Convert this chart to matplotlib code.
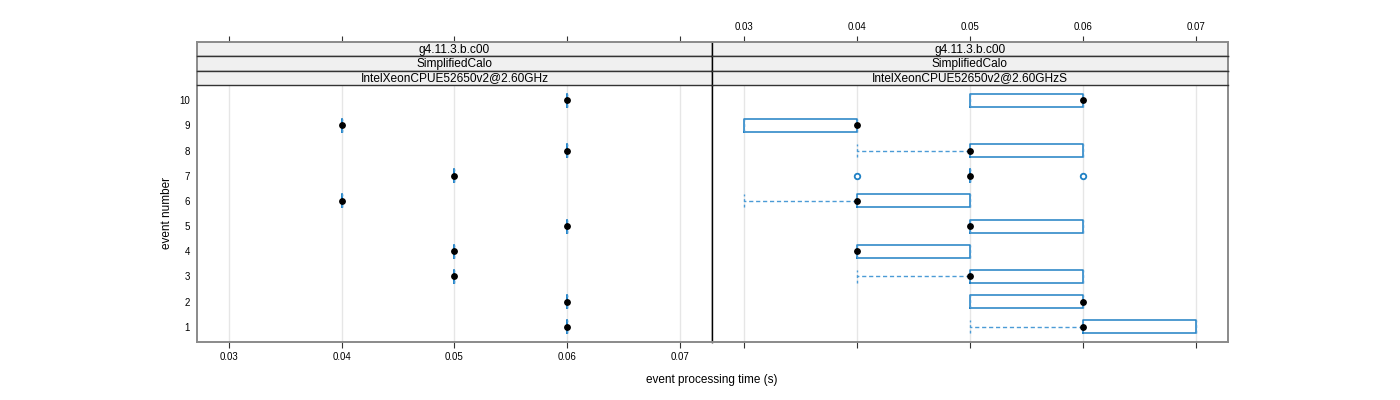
import matplotlib
matplotlib.use("Agg")
import matplotlib.pyplot as plt

plt.rcParams['font.family'] = ['Liberation Sans', 'DejaVu Sans']

# ---------------- data ----------------
events = [1, 2, 3, 4, 5, 6, 7, 8, 9, 10]
x_ticks = [0.03, 0.04, 0.05, 0.06, 0.07]
x_tick_labels = ["0.03", "0.04", "0.05", "0.06", "0.07"]

strip_labels_left = ["g4.11.3.b.c00", "SimplifiedCalo", "IntelXeonCPUE52650v2@2.60GHz"]
strip_labels_right = ["g4.11.3.b.c00", "SimplifiedCalo", "IntelXeonCPUE52650v2@2.60GHzS"]

# left panel: single measurement per event
left_values = [0.06, 0.06, 0.05, 0.05, 0.06, 0.04, 0.05, 0.06, 0.04, 0.06]

# right panel: box statistics per event
right_wlo = [0.05, 0.05, 0.04, 0.04, 0.05, 0.03, 0.05, 0.04, 0.03, 0.05]
right_q1 = [0.06, 0.05, 0.05, 0.04, 0.05, 0.04, 0.05, 0.05, 0.03, 0.05]
right_med = [0.06, 0.06, 0.05, 0.04, 0.05, 0.04, 0.05, 0.05, 0.04, 0.06]
right_q3 = [0.07, 0.06, 0.06, 0.05, 0.06, 0.05, 0.05, 0.06, 0.04, 0.06]
right_whi = [0.07, 0.06, 0.06, 0.05, 0.06, 0.05, 0.05, 0.06, 0.04, 0.06]
right_outliers = [[], [], [], [], [], [], [0.04, 0.06], [], [], []]

xlabel = "event processing time (s)"
ylabel = "event number"

# ---------------- style ----------------
BOX = '#1f80c4'
WHISK = '#4b9bd6'
FRAME = '#8a8a8a'
GRID = '#e6e6e6'
XLIM = (0.0272, 0.0728)
YLIM = (0.4, 10.6)

W, H = 1400, 400
fig = plt.figure(figsize=(14, 4), dpi=100)


def fx(px):
    return px / W


def fy(py):
    return 1 - py / H


left_x0, mid_x, right_x1 = 197, 712, 1228
plot_top, plot_bot = 85, 342
strip_edges = [42, 56.3, 70.7, 85]


def draw_panel(ax, wlo, q1, med, q3, whi, fliers):
    for t in x_ticks:
        ax.axvline(t, color=GRID, lw=1, zorder=0)
    stats = []
    for i in range(len(events)):
        stats.append(dict(whislo=wlo[i], q1=q1[i], med=med[i], q3=q3[i],
                          whishi=whi[i], fliers=fliers[i]))
    ax.bxp(stats, positions=events, widths=0.52, orientation='horizontal',
           showfliers=True, patch_artist=False, manage_ticks=False,
           capwidths=0.52,
           boxprops=dict(color=BOX, lw=1.1),
           whiskerprops=dict(color=WHISK, lw=1, linestyle=(0, (3, 2))),
           capprops=dict(color=WHISK, lw=1, linestyle=(0, (2, 2))),
           medianprops=dict(visible=False),
           flierprops=dict(marker='o', markerfacecolor='white',
                           markeredgecolor=BOX, markersize=4.0, markeredgewidth=1.3))
    ax.plot(med, events, 'o', color='black', markersize=3.9, zorder=5, linestyle='none')
    ax.set_xlim(*XLIM)
    ax.set_ylim(*YLIM)


axL = fig.add_axes([fx(left_x0), fy(plot_bot), fx(mid_x - left_x0), (plot_bot - plot_top) / H])
draw_panel(axL, left_values, left_values, left_values, left_values, left_values,
           [[] for _ in events])
axR = fig.add_axes([fx(mid_x), fy(plot_bot), fx(right_x1 - mid_x), (plot_bot - plot_top) / H])
draw_panel(axR, right_wlo, right_q1, right_med, right_q3, right_whi, right_outliers)

for ax in (axL, axR):
    for s in ax.spines.values():
        s.set_color(FRAME)
        s.set_linewidth(1.4)
    ax.set_xticks(x_ticks)
    ax.tick_params(axis='x', direction='out', length=4.5, width=0.8, color='#333333',
                   labelsize=7, pad=3, top=False)
axL.spines['right'].set_color('black')
axL.spines['right'].set_linewidth(1.0)
axR.spines['left'].set_color('black')
axR.spines['left'].set_linewidth(1.0)

axL.set_xticklabels(x_tick_labels)
axR.set_xticklabels([])
axL.set_yticks(events)
axL.set_yticklabels([str(e) for e in events])
axL.tick_params(axis='y', length=0, pad=5, labelsize=7)
axR.set_yticks([])

# strips
for (x0, x1, labels, show_top) in [(left_x0, mid_x, strip_labels_left, False),
                                    (mid_x, right_x1, strip_labels_right, True)]:
    for k in range(3):
        y_top, y_bot = strip_edges[k], strip_edges[k + 1]
        sax = fig.add_axes([fx(x0), fy(y_bot), fx(x1 - x0), (y_bot - y_top) / H])
        sax.set_facecolor('#f0f0f0')
        sax.set_xlim(*XLIM)
        sax.set_ylim(0, 1)
        sax.set_yticks([])
        sax.text(0.5, 0.45, labels[k], transform=sax.transAxes, ha='center', va='center',
                 fontsize=8.6, color='black')
        for s in sax.spines.values():
            s.set_color('#333333')
            s.set_linewidth(1.0)
        sax.spines['left'].set_color('black' if x0 == mid_x else FRAME)
        sax.spines['right'].set_color(FRAME if x0 == mid_x else 'black')
        sax.spines['left'].set_linewidth(1.0 if x0 == mid_x else 1.4)
        sax.spines['right'].set_linewidth(1.4 if x0 == mid_x else 1.0)
        if k == 0:
            sax.spines['top'].set_color(FRAME)
            sax.spines['top'].set_linewidth(1.4)
            sax.set_xticks(x_ticks)
            sax.tick_params(axis='x', bottom=False, labelbottom=False, top=True,
                            labeltop=show_top, direction='out', length=4.5, width=0.8,
                            color='#333333', labelsize=7, pad=3)
            if show_top:
                sax.set_xticklabels(x_tick_labels)
        else:
            sax.set_xticks([])

fig.text(fx(712), fy(380), xlabel, ha='center', va='center', fontsize=8.5)
fig.text(fx(167), fy(213), ylabel, ha='center', va='center', fontsize=8.5, rotation=90)

fig.savefig('out.png', dpi=100)
